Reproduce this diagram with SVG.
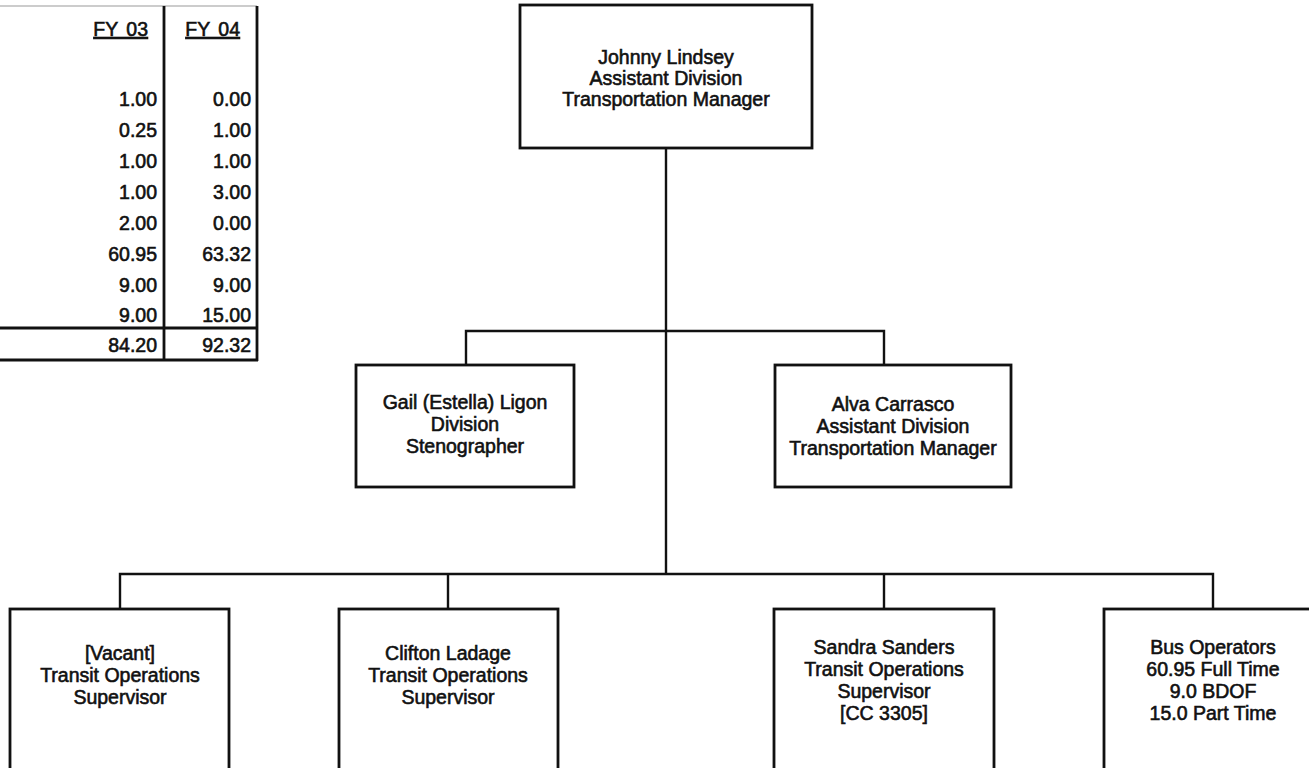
<svg xmlns="http://www.w3.org/2000/svg" width="1309" height="768" viewBox="0 0 1309 768">
<style>
.bg{fill:#ffffff}
.box{fill:#ffffff;stroke:#111;stroke-width:2.8}
.con{fill:none;stroke:#111;stroke-width:2.4}
.tl{fill:none;stroke:#111;stroke-width:2.8}
.thin{fill:none;stroke:#999;stroke-width:1}
.t{font-family:"Liberation Sans",Arial,sans-serif;font-size:19.5px;fill:#111;stroke:#111;stroke-width:0.6;text-anchor:middle}
.n{font-family:"Liberation Sans",Arial,sans-serif;font-size:19.5px;fill:#111;stroke:#111;stroke-width:0.6;text-anchor:end}
.u{text-decoration:underline;word-spacing:3px}
</style>
<rect class="bg" x="0" y="0" width="1309" height="768"/>

<g id="fte-table">
<line class="thin" x1="0" y1="6" x2="257" y2="6"/>
<line class="tl" x1="164" y1="6" x2="164" y2="361"/>
<line class="tl" x1="257" y1="6" x2="257" y2="361"/>
<line class="tl" x1="0" y1="328" x2="258" y2="328"/>
<line class="tl" x1="0" y1="360" x2="258" y2="360"/>
<text class="n u" x="148" y="36">FY 03</text>
<text class="n u" x="240" y="36">FY 04</text>
<text class="n" x="157" y="106">1.00</text><text class="n" x="251" y="106">0.00</text>
<text class="n" x="157" y="137">0.25</text><text class="n" x="251" y="137">1.00</text>
<text class="n" x="157" y="168">1.00</text><text class="n" x="251" y="168">1.00</text>
<text class="n" x="157" y="199">1.00</text><text class="n" x="251" y="199">3.00</text>
<text class="n" x="157" y="230">2.00</text><text class="n" x="251" y="230">0.00</text>
<text class="n" x="157" y="261">60.95</text><text class="n" x="251" y="261">63.32</text>
<text class="n" x="157" y="292">9.00</text><text class="n" x="251" y="292">9.00</text>
<text class="n" x="157" y="322">9.00</text><text class="n" x="251" y="322">15.00</text>
<text class="n" x="157" y="352">84.20</text><text class="n" x="251" y="352">92.32</text>
</g>

<g id="connectors">
<line class="con" x1="666" y1="148" x2="666" y2="574"/>
<polyline class="con" points="466,365 466,331 884,331 884,365"/>
<polyline class="con" points="120,609 120,574 1213,574 1213,609"/>
<line class="con" x1="448" y1="574" x2="448" y2="609"/>
<line class="con" x1="884" y1="574" x2="884" y2="609"/>
</g>

<g id="johnny-lindsey">
<rect class="box" x="520" y="5" width="292" height="143"/>
<text class="t" x="666" y="64">Johnny Lindsey</text>
<text class="t" x="666" y="85">Assistant Division</text>
<text class="t" x="666" y="106">Transportation Manager</text>
</g>

<g id="gail-ligon">
<rect class="box" x="356" y="365" width="218" height="122"/>
<text class="t" x="465" y="409">Gail (Estella) Ligon</text>
<text class="t" x="465" y="431">Division</text>
<text class="t" x="465" y="453">Stenographer</text>
</g>

<g id="alva-carrasco">
<rect class="box" x="775" y="365" width="236" height="122"/>
<text class="t" x="893" y="411">Alva Carrasco</text>
<text class="t" x="893" y="433">Assistant Division</text>
<text class="t" x="893" y="455">Transportation Manager</text>
</g>

<g id="vacant">
<rect class="box" x="10" y="609" width="219" height="170"/>
<text class="t" x="120" y="660">[Vacant]</text>
<text class="t" x="120" y="682">Transit Operations</text>
<text class="t" x="120" y="704">Supervisor</text>
</g>

<g id="clifton-ladage">
<rect class="box" x="339" y="609" width="219" height="170"/>
<text class="t" x="448" y="660">Clifton Ladage</text>
<text class="t" x="448" y="682">Transit Operations</text>
<text class="t" x="448" y="704">Supervisor</text>
</g>

<g id="sandra-sanders">
<rect class="box" x="774" y="609" width="220" height="170"/>
<text class="t" x="884" y="654">Sandra Sanders</text>
<text class="t" x="884" y="676">Transit Operations</text>
<text class="t" x="884" y="698">Supervisor</text>
<text class="t" x="884" y="720">[CC 3305]</text>
</g>

<g id="bus-operators">
<rect class="box" x="1104" y="609" width="219" height="170"/>
<text class="t" x="1213" y="654">Bus Operators</text>
<text class="t" x="1213" y="676">60.95 Full Time</text>
<text class="t" x="1213" y="698">9.0 BDOF</text>
<text class="t" x="1213" y="720">15.0 Part Time</text>
</g>
</svg>
